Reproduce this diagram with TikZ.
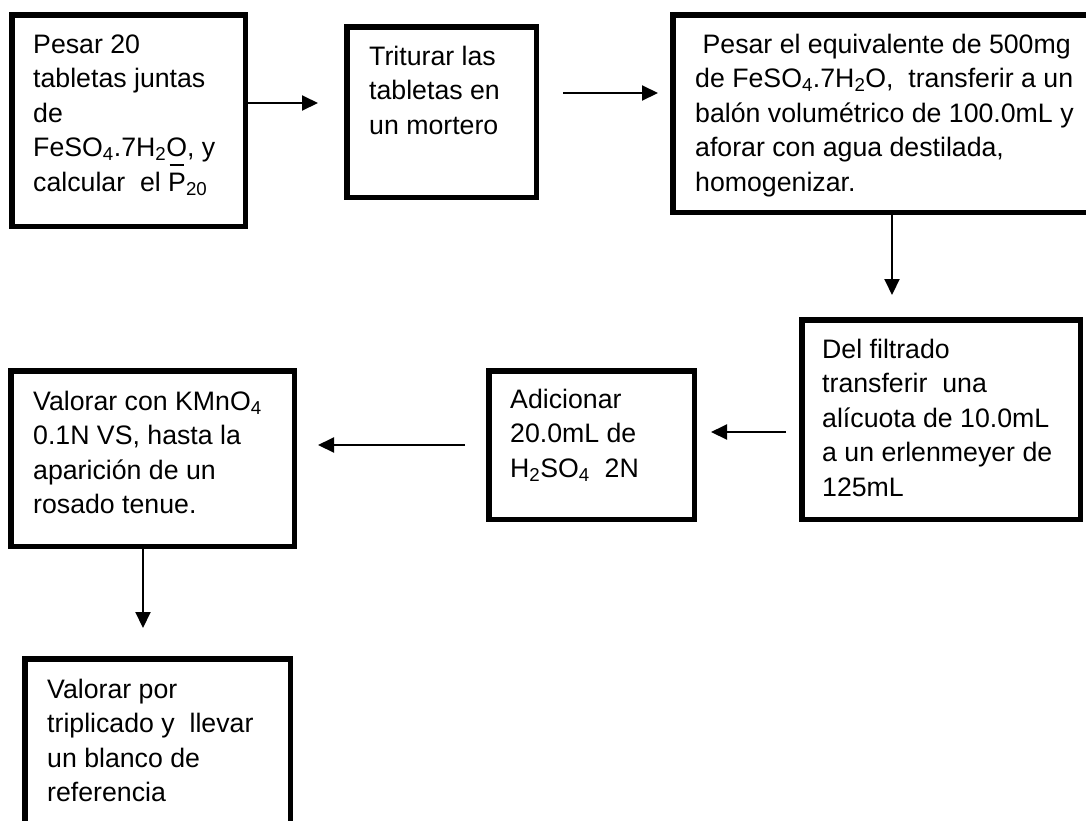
\documentclass[tikz,border=0pt]{standalone}
\usepackage{fontspec}
\setmainfont{Liberation Sans}
\usetikzlibrary{arrows.meta}

\tikzset{
  stepbox/.style={draw, line width=5.5pt, inner sep=0pt},
  flow/.style={line width=2pt, -{Triangle[length=16pt,width=15pt]}},
  txt/.style={anchor=base west, inner sep=0pt, font=\fontsize{26.7}{34.5}\selectfont},
}

% box given by its outer edges: name, left, top, right, bottom
\newcommand\flowbox[5]{%
  \node[stepbox, minimum width={#4-#2-5.5}, minimum height={#5-#3-5.5}]
    (#1) at ({(#2+#4)/2},{(#3+#5)/2}) {};}
% text block whose first baseline sits at the given point
\newcommand\flowtext[3]{%
  \node[txt] (#1) at (#2) {\parbox[t]{420pt}{\raggedright #3}};}
% P with a bar over it (mean weight)
\newcommand\barP{\rlap{\hspace{1.5pt}\raisebox{25pt}{\rule{14pt}{2pt}}}P}

\begin{document}
\begin{tikzpicture}[x=1pt, y=-1pt]
  \useasboundingbox (0,0) rectangle (1086,820);

  % boxes
  \flowbox{b1}{9}{12}{248}{229}
  \flowbox{b2}{344}{24}{539}{200}
  \flowbox{b3}{670}{12}{1110}{215}
  \flowbox{b4}{799}{317}{1083}{522}
  \flowbox{b5}{486}{368}{697}{522}
  \flowbox{b6}{8}{368}{297}{549}
  \flowbox{b7}{22}{656}{293}{840}

  % texts
  \flowtext{t1}{33,53}{Pesar 20\\tabletas juntas\\de\\FeSO\textsubscript{4}.7H\textsubscript{2}O, y\\calcular\ \ el \barP\textsubscript{20}}
  \flowtext{t2}{369,65}{Triturar las\\tabletas en\\un mortero}
  \flowtext{t3}{695,53}{\ Pesar el equivalente de 500mg\\de FeSO\textsubscript{4}.7H\textsubscript{2}O,\ \ transferir a un\\balón volumétrico de 100.0mL y\\aforar con agua destilada,\\homogenizar.}
  \flowtext{t4}{822,358}{Del filtrado\\transferir\ \ una\\alícuota de 10.0mL\\a un erlenmeyer de\\125mL}
  \flowtext{t5}{510,408}{Adicionar\\20.0mL de\\H\textsubscript{2}SO\textsubscript{4}\ \ 2N}
  \flowtext{t6}{33,410}{Valorar con KMnO\textsubscript{4}\\0.1N VS, hasta la\\aparición de un\\rosado tenue.}
  \flowtext{t7}{47,698}{Valorar por\\triplicado y\ \ llevar\\un blanco de\\referencia}

  % connectors
  \draw[flow, shorten >=26pt] (b1.east |- 0,103) -- (b2.west |- 0,103);
  \draw[flow, shorten <=24pt, shorten >=12pt] (b2.east |- 0,93) -- (b3.west |- 0,93);
  \draw[flow, shorten >=22pt] (b3.south -| 892,0) -- (b4.north -| 892,0);
  \draw[flow, shorten <=13pt, shorten >=14pt] (b4.west |- 0,432) -- (b5.east |- 0,432);
  \draw[flow, shorten <=21pt, shorten >=21pt] (b5.west |- 0,445) -- (b6.east |- 0,445);
  \draw[flow, shorten >=28pt] (b6.south -| 143,0) -- (b7.north -| 143,0);
\end{tikzpicture}
\end{document}
